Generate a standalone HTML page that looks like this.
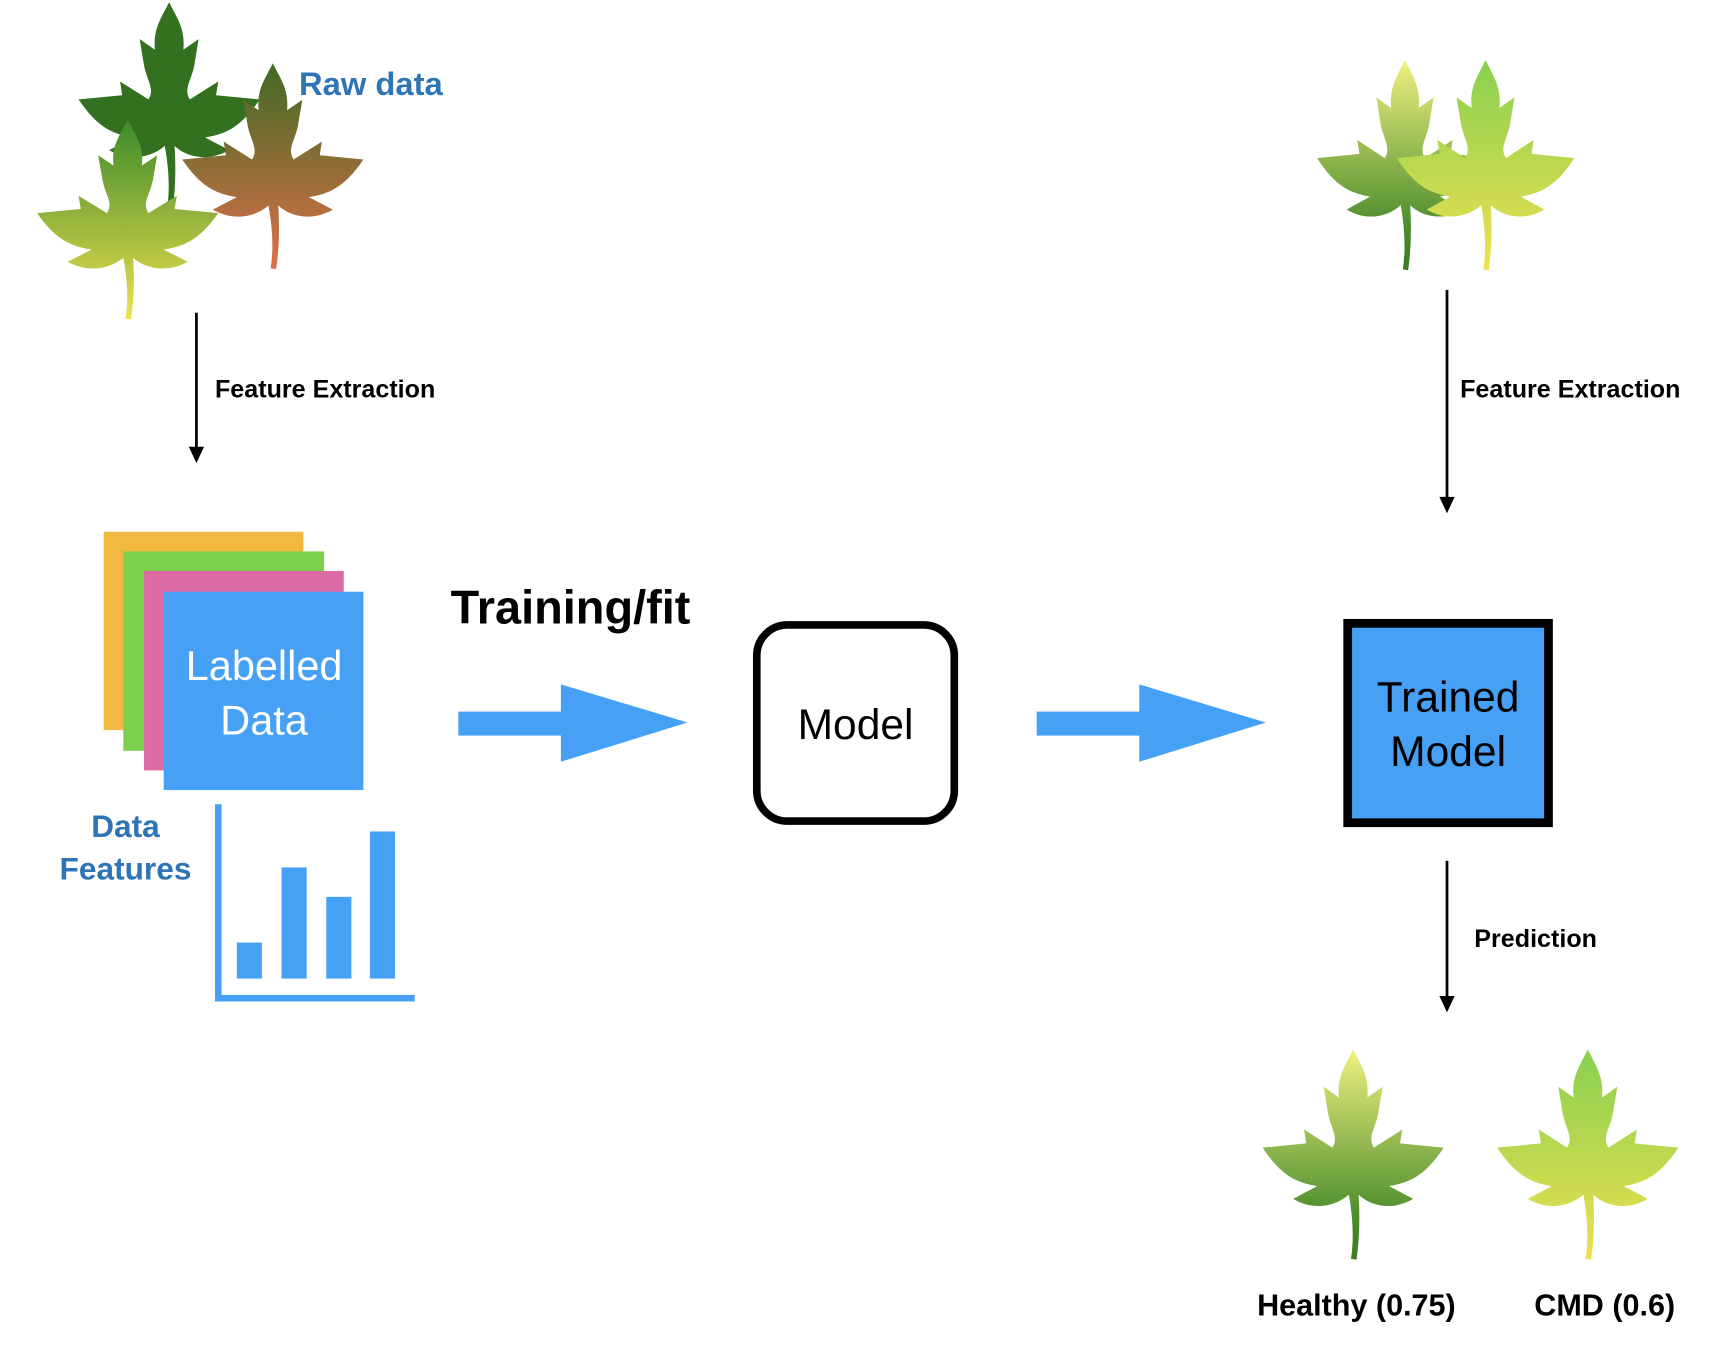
<!DOCTYPE html>
<html><head><meta charset="utf-8"><style>
html,body{margin:0;padding:0;background:#fff;}
svg{display:block;}
</style></head><body>
<svg width="1710" height="1348" viewBox="0 0 1567 1237" preserveAspectRatio="none" xmlns="http://www.w3.org/2000/svg">
<defs>
<path id="leaf" d="M85,0 C92,15 100,25 98,45 L112,35 L108,60 C105,75 98,82 104,92 L130,75 L128,88 L168,92 C150,120 135,125 118,128 L140,140 C120,152 100,146 90,136 Q92,170 88,197 L83,196 Q87,170 81,136 C70,146 50,152 30,140 L52,128 C35,125 20,120 2,92 L42,88 L40,75 L66,92 C72,82 65,75 62,60 L58,35 L72,45 C70,25 78,15 85,0 Z"/>
<linearGradient id="gBrown" x1="0" y1="0" x2="0" y2="1"><stop offset="0" stop-color="#3f6a25"/><stop offset="1" stop-color="#e0704a"/></linearGradient>
<linearGradient id="gLight" x1="0" y1="0" x2="0" y2="1"><stop offset="0" stop-color="#3d8a2a"/><stop offset="1" stop-color="#f0e050"/></linearGradient>
<linearGradient id="gHealthy" x1="0" y1="0" x2="0" y2="1"><stop offset="0" stop-color="#f0f080"/><stop offset="0.8" stop-color="#4a8c2c"/><stop offset="1" stop-color="#3a7a22"/></linearGradient>
<linearGradient id="gCMD" x1="0" y1="0" x2="0" y2="1"><stop offset="0" stop-color="#88d050"/><stop offset="1" stop-color="#f0e050"/></linearGradient>
</defs>

<use href="#leaf" fill="#33701f" transform="translate(70,2) scale(1,0.97)"/>
<use href="#leaf" fill="url(#gBrown)" transform="translate(165,58) scale(1,0.96)"/>
<use href="#leaf" fill="url(#gLight)" transform="translate(32,110) scale(1,0.93)"/>
<text x="274" y="87" font-family="Liberation Sans, sans-serif" font-weight="bold" font-size="30" fill="#2f75b6">Raw data</text>

<use href="#leaf" fill="url(#gHealthy)" transform="translate(1205,55) scale(0.97,0.98)"/>
<use href="#leaf" fill="url(#gCMD)" transform="translate(1278,55) scale(0.98,0.98)"/>

<use href="#leaf" fill="url(#gHealthy)" transform="translate(1155,963) scale(1,0.98)"/>
<use href="#leaf" fill="url(#gCMD)" transform="translate(1370,963) scale(1,0.98)"/>

<g stroke="#000" stroke-width="2.5">
<line x1="180" y1="287" x2="180" y2="412"/>
<line x1="1326" y1="266" x2="1326" y2="458"/>
<line x1="1326" y1="790" x2="1326" y2="916"/>
</g>
<g fill="#000">
<polygon points="173,410 187,410 180,425"/>
<polygon points="1319,456 1333,456 1326,471"/>
<polygon points="1319,914 1333,914 1326,929"/>
</g>
<g font-family="Liberation Sans, sans-serif" font-weight="bold" font-size="23" fill="#000">
<text x="197" y="365">Feature Extraction</text>
<text x="1338" y="365">Feature Extraction</text>
<text x="1351" y="869">Prediction</text>
</g>

<rect x="95" y="488" width="183" height="182" fill="#f0b942"/>
<rect x="113" y="506" width="184" height="183" fill="#80d050"/>
<rect x="132" y="524" width="183" height="183" fill="#dc6aa5"/>
<rect x="150" y="543" width="183" height="182" fill="#46a0f5"/>
<g font-family="Liberation Sans, sans-serif" font-size="38" fill="#fff" text-anchor="middle">
<text x="242" y="624">Labelled</text>
<text x="242" y="674">Data</text>
</g>
<g font-family="Liberation Sans, sans-serif" font-weight="bold" font-size="29" fill="#2f75b6" text-anchor="middle">
<text x="115" y="768">Data</text>
<text x="115" y="807">Features</text>
</g>

<g fill="#46a0f5">
<rect x="197" y="738" width="6" height="181"/>
<rect x="197" y="913" width="183" height="6"/>
<rect x="217" y="865" width="23" height="33"/>
<rect x="258" y="796" width="23" height="102"/>
<rect x="299" y="823" width="23" height="75"/>
<rect x="339" y="763" width="23" height="135"/>
</g>

<text x="413" y="572" font-family="Liberation Sans, sans-serif" font-weight="bold" font-size="43" fill="#000">Training/fit</text>

<g fill="#46a0f5">
<rect x="420" y="653" width="96" height="22"/>
<polygon points="514,628 630,663 514,699"/>
<rect x="950" y="653" width="96" height="22"/>
<polygon points="1044,628 1160,663 1044,699"/>
</g>

<rect x="693.5" y="573.5" width="181" height="180" rx="28" ry="28" fill="#fff" stroke="#000" stroke-width="7"/>
<text x="784" y="678" font-family="Liberation Sans, sans-serif" font-size="39" fill="#000" text-anchor="middle">Model</text>

<rect x="1235" y="572" width="184" height="183" fill="#46a0f5" stroke="#000" stroke-width="8"/>
<g font-family="Liberation Sans, sans-serif" font-size="39" fill="#000" text-anchor="middle">
<text x="1327" y="653">Trained</text>
<text x="1327" y="703">Model</text>
</g>

<g font-family="Liberation Sans, sans-serif" font-weight="bold" font-size="28" fill="#000">
<text x="1152" y="1207">Healthy (0.75)</text>
<text x="1406" y="1207">CMD (0.6)</text>
</g>
</svg>
</body></html>
